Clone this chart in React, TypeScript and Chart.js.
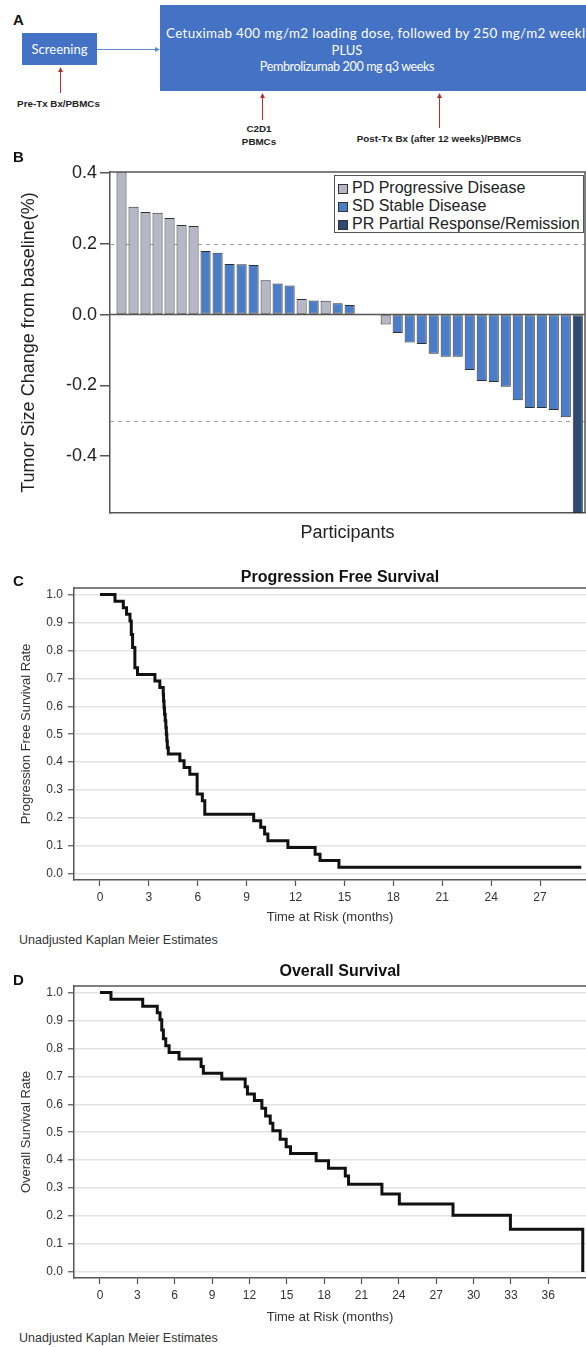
import React, { useEffect, useRef } from "react";
import { Chart, registerables } from "chart.js";

Chart.register(...registerables);

const SANS = "'Liberation Sans', Arial, Helvetica, sans-serif";
const SLIDE = "Lato, 'Open Sans', sans-serif";
Chart.defaults.font.family = SANS;

// ---------- Panel B: tumour size change (waterfall) ----------
const tumorChange = [
  0.402, 0.305, 0.29, 0.288, 0.273, 0.253, 0.25, 0.18, 0.175, 0.143,
  0.142, 0.14, 0.097, 0.088, 0.082, 0.044, 0.04, 0.039, 0.032, 0.027,
  0, 0, -0.028, -0.052, -0.079, -0.083, -0.111, -0.119, -0.119, -0.157,
  -0.188, -0.191, -0.204, -0.242, -0.264, -0.264, -0.27, -0.29, -0.561,
];
const responseStatus = [
  "PD", "PD", "PD", "PD", "PD", "PD", "PD", "SD", "SD", "SD",
  "SD", "SD", "PD", "SD", "SD", "PD", "SD", "PD", "SD", "SD",
  "SD", "SD", "PD", "SD", "SD", "SD", "SD", "SD", "SD", "SD",
  "SD", "SD", "SD", "SD", "SD", "SD", "SD", "SD", "PR",
];
const responseCategories = ["PD", "SD", "PR"];
const responseLabels = ["PD Progressive Disease", "SD Stable Disease", "PR Partial Response/Remission"];
const responseColors = ["#b5b6c6", "#4a7cc8", "#2c4a72"];
const waterfallTicks = [-0.4, -0.2, 0, 0.2, 0.4];
const waterfallRefLines = [0.2, -0.3];

// ---------- Panel C: progression free survival ----------
const pfsMonths = [
  0, 0.92, 1.43, 1.63, 1.84, 1.92, 2.0, 2.14, 2.3, 3.37, 3.67, 3.88,
  3.9, 3.93, 3.96, 4.0, 4.04, 4.07, 4.1, 4.13, 4.19, 4.9, 5.16, 5.51,
  5.96, 6.28, 6.43, 9.43, 9.86, 10.1, 10.3, 11.53, 13.2, 13.5, 14.66, 29.53,
];
const pfsRate = [
  1.0, 0.976, 0.952, 0.929, 0.905, 0.857, 0.81, 0.738, 0.714, 0.69, 0.667, 0.643,
  0.619, 0.595, 0.571, 0.548, 0.524, 0.5, 0.476, 0.452, 0.429, 0.405, 0.381, 0.357,
  0.286, 0.262, 0.214, 0.19, 0.167, 0.143, 0.119, 0.095, 0.071, 0.048, 0.024, 0.024,
];
const pfsXTicks = [0, 3, 6, 9, 12, 15, 18, 21, 24, 27];

// ---------- Panel D: overall survival ----------
const osMonths = [
  0, 0.88, 3.43, 4.6, 4.82, 4.96, 5.09, 5.28, 5.55, 6.35, 8.12, 8.3,
  9.78, 11.66, 11.84, 12.4, 13.0, 13.3, 13.67, 13.88, 14.47, 14.95, 15.3, 17.36,
  18.35, 19.7, 19.96, 22.64, 24.04, 28.35, 32.96, 38.77,
];
const osRate = [
  1.0, 0.976, 0.951, 0.927, 0.902, 0.866, 0.834, 0.809, 0.785, 0.762, 0.735, 0.711,
  0.69, 0.663, 0.637, 0.613, 0.586, 0.558, 0.532, 0.505, 0.475, 0.448, 0.424, 0.398,
  0.371, 0.343, 0.314, 0.279, 0.243, 0.203, 0.153, 0.0,
];
const osXTicks = [0, 3, 6, 9, 12, 15, 18, 21, 24, 27, 30, 33, 36];
const survivalTicks = [0, 0.1, 0.2, 0.3, 0.4, 0.5, 0.6, 0.7, 0.8, 0.9, 1.0];

// ---------- chart configs ----------
const AXIS = "#555";

const waterfallLines = {
  id: "waterfallLines",
  beforeDatasetsDraw(chart: any) {
    const { ctx, chartArea: a, scales } = chart;
    const y = scales.y;
    ctx.save();
    ctx.strokeStyle = "#a0a0a0";
    ctx.lineWidth = 1;
    ctx.setLineDash([4, 4]);
    waterfallRefLines.forEach((v) => {
      const py = Math.round(y.getPixelForValue(v)) + 0.5;
      ctx.beginPath();
      ctx.moveTo(a.left, py);
      ctx.lineTo(a.right, py);
      ctx.stroke();
    });
    ctx.restore();
  },
  afterDatasetsDraw(chart: any) {
    const { ctx, chartArea: a, scales } = chart;
    const y0 = scales.y.getPixelForValue(0);
    ctx.save();
    ctx.strokeStyle = AXIS;
    ctx.lineWidth = 1.5;
    ctx.beginPath();
    ctx.moveTo(a.left, y0);
    ctx.lineTo(a.right, y0);
    ctx.moveTo(a.left, a.top);
    ctx.lineTo(a.right, a.top);
    ctx.lineTo(a.right, a.bottom);
    ctx.stroke();
    ctx.restore();
  },
};

function waterfallConfig(): any {
  return {
    type: "bar",
    data: {
      datasets: [
        {
          data: tumorChange.map((v, i) => ({ x: i + 1, y: v })),
          backgroundColor: responseStatus.map((s) => responseColors[responseCategories.indexOf(s)]),
          borderColor: "#2f2f2f",
          borderWidth: 1,
          borderSkipped: false,
          barPercentage: 0.84,
          categoryPercentage: 1,
        },
      ],
    },
    options: {
      responsive: false,
      animation: false,
      layout: { padding: { top: 22, right: 1, bottom: 6, left: 0 } },
      plugins: { legend: { display: false }, tooltip: { enabled: false } },
      scales: {
        x: {
          type: "linear",
          min: 0.04,
          max: 39.6,
          offset: false,
          ticks: { display: false },
          grid: { display: false },
          border: { display: true, color: AXIS, width: 1.5 },
          title: { display: true, text: "Participants", font: { size: 18 }, color: "#222", padding: { top: 0, bottom: 0 } },
          afterFit: (s: any) => { s.height = 31; },
        },
        y: {
          min: -0.561,
          max: 0.403,
          afterBuildTicks: (s: any) => { s.ticks = waterfallTicks.map((v) => ({ value: v })); },
          ticks: { callback: (v: any) => Number(v).toFixed(1), font: { size: 18 }, color: "#222", padding: 3 },
          grid: { drawOnChartArea: false, drawTicks: true, tickLength: 10, color: AXIS, lineWidth: 1.5 },
          border: { display: true, color: AXIS, width: 1.5 },
          title: { display: true, text: "Tumor Size Change from baseline(%)", font: { size: 18 }, color: "#222", padding: { top: 18, bottom: 0 } },
          afterFit: (s: any) => { s.width = 110; },
        },
      },
    },
    plugins: [waterfallLines],
  };
}

const frameTop = {
  id: "frameTop",
  afterDraw(chart: any) {
    const { ctx, chartArea: a } = chart;
    ctx.save();
    ctx.strokeStyle = AXIS;
    ctx.lineWidth = 1.5;
    ctx.beginPath();
    ctx.moveTo(a.left, a.top);
    ctx.lineTo(a.right, a.top);
    ctx.stroke();
    ctx.restore();
  },
};

function survivalConfig(
  months: number[], rate: number[], xTicks: number[], xMin: number, xMax: number,
  yTitle: string, padTop: number, axisH: number
): any {
  return {
    type: "line",
    data: {
      datasets: [
        {
          data: months.map((m, i) => ({ x: m, y: rate[i] })),
          borderColor: "#111",
          borderWidth: 3,
          stepped: "before",
          pointRadius: 0,
          fill: false,
        },
      ],
    },
    options: {
      responsive: false,
      animation: false,
      layout: { padding: { top: padTop, right: 0, bottom: 0, left: 0 } },
      plugins: { legend: { display: false }, tooltip: { enabled: false } },
      scales: {
        x: {
          type: "linear",
          min: xMin,
          max: xMax,
          afterBuildTicks: (s: any) => { s.ticks = xTicks.map((v) => ({ value: v })); },
          ticks: { font: { size: 12 }, color: "#333", padding: 4, maxRotation: 0, autoSkip: false },
          grid: { drawOnChartArea: false, drawTicks: true, tickLength: 6, tickColor: AXIS, tickWidth: 1.2 },
          border: { display: true, color: AXIS, width: 1.5 },
          title: { display: true, text: "Time at Risk (months)", font: { size: 13 }, color: "#333", padding: { top: 0, bottom: 5 } },
          afterFit: (s: any) => { s.height = axisH; },
        },
        y: {
          min: -0.0215,
          max: 1.023,
          afterBuildTicks: (s: any) => { s.ticks = survivalTicks.map((v) => ({ value: v })); },
          ticks: { callback: (v: any) => Number(v).toFixed(1), font: { size: 12 }, color: "#333", padding: 5 },
          grid: { color: "#e3e3e3", lineWidth: 1.5, drawTicks: true, tickLength: 6, tickColor: AXIS, tickWidth: 1.2 },
          border: { display: true, color: AXIS, width: 1.5 },
          title: { display: true, text: yTitle, font: { size: 13 }, color: "#333", padding: { top: 19, bottom: 0 } },
          afterFit: (s: any) => { s.width = 74; },
        },
      },
    },
    plugins: [frameTop],
  };
}

// ---------- components ----------
function ChartCanvas({ make, left, top, width, height }: any) {
  const ref = useRef<HTMLCanvasElement>(null);
  useEffect(() => {
    const chart = new Chart(ref.current as HTMLCanvasElement, make());
    return () => chart.destroy();
  }, []);
  return (
    <canvas
      ref={ref}
      width={width}
      height={height}
      style={{ position: "absolute", left, top, width, height }}
    />
  );
}

function Txt({ x, y, children, size = 12, weight = 400, color = "#222", align = "left", family = SANS, spacing = 0 }: any) {
  const h = Math.round(size * 1.3);
  const style: any = {
    position: "absolute",
    top: y - h / 2,
    height: h,
    lineHeight: h + "px",
    fontSize: size,
    fontWeight: weight,
    color,
    fontFamily: family,
    whiteSpace: "nowrap",
    letterSpacing: spacing,
    left: x,
  };
  if (align === "center") style.transform = "translateX(-50%)";
  return <div style={style}>{children}</div>;
}

function PanelA() {
  const red = "#b3302e";
  const arrows = [
    { x: 60, y1: 93, y2: 67 },
    { x: 262, y1: 120, y2: 93 },
    { x: 439, y1: 128, y2: 93 },
  ];
  return (
    <>
      <div style={{ position: "absolute", left: 22, top: 33, width: 75, height: 32, background: "#4472c4" }} />
      <div style={{ position: "absolute", left: 160, top: 5, width: 440, height: 86, background: "#4472c4" }} />
      <svg width={586} height={150} style={{ position: "absolute", left: 0, top: 0 }}>
        <line x1={97} y1={49.5} x2={156} y2={49.5} stroke="#5b8bd0" strokeWidth={1} />
        <polygon points="160,49.5 155,47 155,52" fill="#5b8bd0" />
        {arrows.map((a, i) => (
          <g key={i}>
            <line x1={a.x + 0.5} y1={a.y1} x2={a.x + 0.5} y2={a.y2 + 3} stroke={red} strokeWidth={1} />
            <polygon points={`${a.x + 0.5},${a.y2} ${a.x - 2},${a.y2 + 5} ${a.x + 3},${a.y2 + 5}`} fill={red} />
          </g>
        ))}
      </svg>
      <Txt x={59.5} y={49} size={13} color="#fff" align="center" family={SLIDE}>Screening</Txt>
      <Txt x={166} y={33} size={13.4} color="#fff" family={SLIDE} spacing={0.35}>
        Cetuximab 400 mg/m2 loading dose, followed by 250 mg/m2 weekly
      </Txt>
      <Txt x={347} y={50} size={13} color="#fff" align="center" family={SLIDE}>PLUS</Txt>
      <Txt x={347} y={67} size={12.6} color="#fff" align="center" family={SLIDE} spacing={-0.4}>
        Pembrolizumab 200 mg q3 weeks
      </Txt>
      <Txt x={58.5} y={103} size={9.8} weight={700} color="#222" align="center">Pre-Tx Bx/PBMCs</Txt>
      <Txt x={259} y={128} size={9.8} weight={700} color="#222" align="center">C2D1</Txt>
      <Txt x={259} y={141} size={9.8} weight={700} color="#222" align="center">PBMCs</Txt>
      <Txt x={439} y={138} size={9.8} weight={700} color="#222" align="center">
        Post-Tx Bx (after 12 weeks)/PBMCs
      </Txt>
    </>
  );
}

function WaterfallLegend() {
  return (
    <div
      style={{
        position: "absolute",
        left: 334,
        top: 175,
        width: 250,
        height: 58,
        boxSizing: "border-box",
        border: "1.5px solid #555",
        background: "#fff",
      }}
    >
      {responseCategories.map((c, i) => (
        <div key={c} style={{ position: "absolute", left: 0, top: 3 + i * 18, height: 18, width: 248 }}>
          <div
            style={{
              position: "absolute",
              left: 3,
              top: 5,
              width: 8,
              height: 8,
              background: responseColors[i],
              border: "1px solid #333",
            }}
          />
          <div
            style={{
              position: "absolute",
              left: 17,
              top: 0,
              height: 18,
              lineHeight: "18px",
              fontSize: 16,
              fontFamily: SANS,
              color: "#222",
              whiteSpace: "nowrap",
            }}
          >
            {responseLabels[i]}
          </div>
        </div>
      ))}
    </div>
  );
}

export default function App() {
  return (
    <div
      style={{
        position: "fixed",
        left: 0,
        top: 0,
        width: 586,
        height: 1347,
        overflow: "hidden",
        background: "#fff",
        fontFamily: SANS,
      }}
    >
      <PanelA />
      <Txt x={13} y={20} size={15} weight={700} color="#111">A</Txt>

      <ChartCanvas make={waterfallConfig} left={0} top={150} width={586} height={400} />
      <WaterfallLegend />
      <Txt x={13} y={157} size={15} weight={700} color="#111">B</Txt>

      <ChartCanvas
        make={() => survivalConfig(pfsMonths, pfsRate, pfsXTicks, -1.595, 29.82, "Progression Free Survival Rate", 18, 50)}
        left={0}
        top={570}
        width={586}
        height={360}
      />
      <Txt x={13} y={581} size={15} weight={700} color="#111">C</Txt>
      <Txt x={340} y={576} size={16} weight={700} color="#111" align="center">Progression Free Survival</Txt>
      <Txt x={19} y={940} size={12.5} color="#333">Unadjusted Kaplan Meier Estimates</Txt>

      <ChartCanvas
        make={() => survivalConfig(osMonths, osRate, osXTicks, -2.088, 39.03, "Overall Survival Rate", 18, 52)}
        left={0}
        top={968}
        width={586}
        height={362}
      />
      <Txt x={13} y={980} size={15} weight={700} color="#111">D</Txt>
      <Txt x={340} y={970} size={16} weight={700} color="#111" align="center">Overall Survival</Txt>
      <Txt x={19} y={1338} size={12.5} color="#333">Unadjusted Kaplan Meier Estimates</Txt>
    </div>
  );
}
